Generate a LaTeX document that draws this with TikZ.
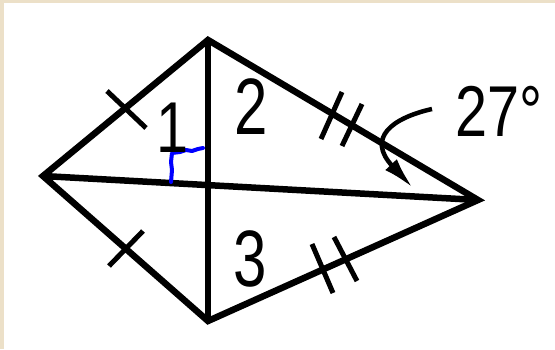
\documentclass[tikz,border=0pt]{standalone}
\usepackage{fontspec}
\setmainfont{Liberation Sans}
\usetikzlibrary{arrows.meta}
\definecolor{beige}{RGB}{236,224,200}
\begin{document}
\begin{tikzpicture}[x=1pt,y=-1pt,
  edge/.style={line width=6.5pt, line join=miter, line cap=butt},
  tickmark/.style={line width=5pt},
  lbl/.style={inner sep=0pt, font=\fontsize{80}{80}\selectfont},
  blueline/.style={draw=blue, line width=4pt, line join=round, line cap=round}]
\useasboundingbox (0,0) rectangle (555,349);
\fill[beige] (0,0) rectangle (555,349);
\fill[white] (4,3) rectangle (555,349);
% vertices
\coordinate (L) at (43,176);
\coordinate (T) at (208,40);
\coordinate (R) at (478,200);
\coordinate (B) at (208,321);
% sides and diagonals
\draw[edge] (L) -- (T) -- (R) -- (B) -- cycle;
\draw[edge] (L) -- (R);
\draw[edge] (T) -- (B);
% tick marks
\draw[tickmark] (107,91) -- (146,128);
\draw[tickmark] (109,266) -- (143,231);
\draw[tickmark] (321,139) -- (342,92);
\draw[tickmark] (342,146) -- (362,104);
\draw[tickmark] (312,244) -- (333,293);
\draw[tickmark] (334,237) -- (357,281);
% right angle mark
\draw[blueline] (171,182) -- (172,170) -- (171,162) -- (172,153) -- (180,152) -- (186,150) -- (192,151) -- (198,149) -- (203,148);
% labels
\node[lbl] (n1) at (173,128) {\scalebox{0.8}[1]{\fontsize{72}{72}\selectfont 1}};
\node[lbl] (n2) at (251,107) {\scalebox{0.75}[1]{2}};
\node[lbl] (n3) at (250,259) {\scalebox{0.75}[1]{3}};
\node[lbl, anchor=west] (ang) at (455,111) {\scalebox{0.8}[1]{\fontsize{72}{72}\selectfont 27°}};
% arrow
\coordinate (as) at (432,109);
\coordinate (at) at (413,188);
\draw[line width=4.5pt, -{Latex[length=32pt,width=16pt]}] (as) .. controls (392,118) and (366,138) .. (at);
\end{tikzpicture}
\end{document}
